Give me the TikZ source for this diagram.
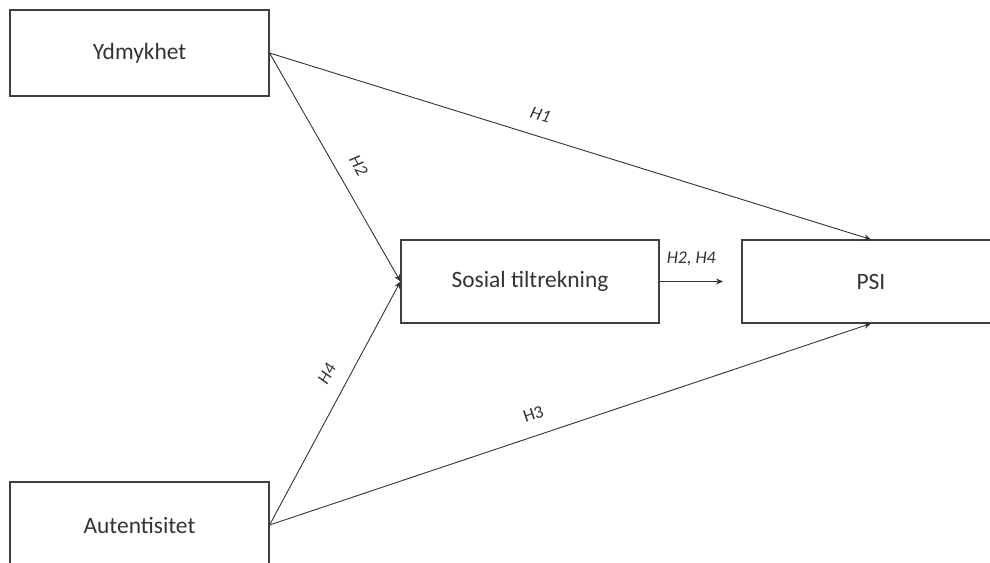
\documentclass[tikz,border=0pt]{standalone}
\usepackage{fontspec}
\setmainfont{Carlito}
\usetikzlibrary{arrows.meta}
\begin{document}
\begin{tikzpicture}[x=1bp,y=-1bp]
			\tikzset{
				box/.style={draw=black!75, line width=1.1bp, inner sep=0pt, text=black!80,
					minimum width=259bp, minimum height=86bp, font=\fontsize{23.5}{26}\selectfont},
				link/.style={-{Stealth[length=7bp,width=6bp]}, line width=0.9bp, draw=black!80},
				hyp/.style={sloped, above=15bp, inner sep=0pt, text=black!80,
					font=\itshape\fontsize{18}{20}\selectfont}
			}
			\useasboundingbox (0,0) rectangle (990,563);
			\clip (0,0) rectangle (990,563);
			\node[box] (ydm) at (139.5,53) {Ydmykhet};
			\node[box] (aut) at (139.5,525) {Autentisitet};
			\node[box, minimum width=258bp, minimum height=83bp] (sos) at (530,281.5) {Sosial tiltrekning};
			\node[box, minimum width=258bp, minimum height=83bp] (psi) at (871,281.5) {PSI};
			\coordinate (sosend) at (723,281.5);
			\draw[link] (ydm.east) -- node[hyp, pos=0.44] {H1} (psi.north);
			\draw[link] (ydm.east) -- node[hyp, pos=0.54] {H2} (sos.west);
			\draw[link] (aut.east) -- node[hyp, pos=0.58] {H4} (sos.west);
			\draw[link] (aut.east) -- node[hyp, pos=0.45, font=\fontsize{18}{20}\selectfont] {H3} (psi.south);
			\draw[link] (sos.east) -- node[hyp, pos=0.5] {H2, H4} (sosend);
		\end{tikzpicture}
\end{document}
